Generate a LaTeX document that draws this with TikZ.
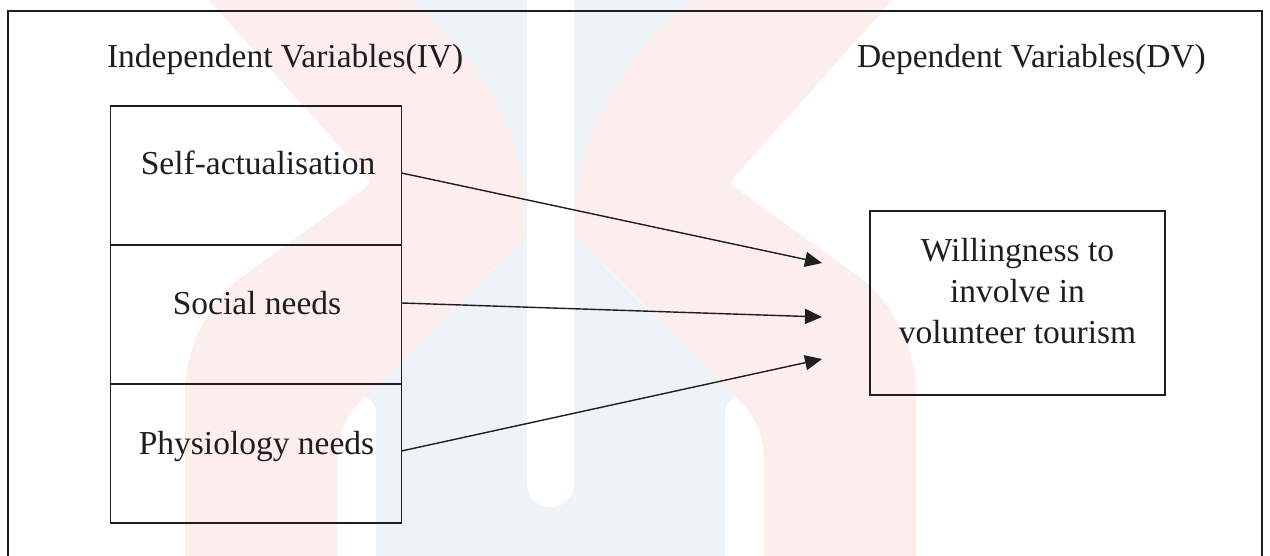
\documentclass[tikz,border=0pt]{standalone}
\usepackage{fontspec}
\setmainfont{Liberation Serif}
\usetikzlibrary{arrows.meta,calc}
\definecolor{wmpink}{RGB}{253,238,238}
\definecolor{wmblue}{RGB}{238,243,248}
\definecolor{ink}{RGB}{30,30,30}
\begin{document}
\begin{tikzpicture}[x=1pt,y=-1pt,
  every node/.style={font=\fontsize{33.5}{41.5}\selectfont, inner sep=0pt, outer sep=0pt, text=ink},
  cellbox/.style={draw=ink, line width=1.8pt, minimum width=291pt, minimum height=139pt},
  dvbox/.style={draw=ink, line width=1.8pt, minimum width=295pt, minimum height=184pt},
  frameline/.style={draw=ink, line width=2pt},
  conn/.style={draw=ink, line width=1.4pt, -{Triangle[length=17pt,width=15pt]}},
  lbl/.style={anchor=base}
]
\clip (0,0) rectangle (1270,556);
% watermark: blue centre
\fill[wmblue] (396,-5) .. controls (530,110) and (535,232) .. (495,268) -- (331,431) -- (331,600) -- (770,600) -- (770,431) -- (606,268) .. controls (566,232) and (571,110) .. (705,-5) -- cycle;
\fill[white, rounded corners=19pt] (337,395) rectangle (376,620);
\fill[white, rounded corners=19pt] (725,395) rectangle (764,620);
\fill[white, rounded corners=23pt] (527,-40) rectangle (574,507);
% watermark: pink bands
\fill[wmpink] (204,-5) [rounded corners=6pt] -- (372,183) [rounded corners=70pt] -- (185,318) [sharp corners] -- (185,600) [rounded corners=30pt] -- (337,600) -- (337,425) -- (500,262) [sharp corners] .. controls (530,232) and (540,100) .. (402,-5) -- cycle;
\fill[wmpink] (897,-5) [rounded corners=6pt] -- (729,183) [rounded corners=70pt] -- (916,318) [sharp corners] -- (916,600) [rounded corners=30pt] -- (764,600) -- (764,425) -- (601,262) [sharp corners] .. controls (571,232) and (561,100) .. (699,-5) -- cycle;
% outer frame
\draw[frameline] (8,600) -- (8,11) -- (1262,11) -- (1262,600);
% headers
\node[anchor=base west] (ivh) at (107,68) {Independent Variables(IV)};
\node[anchor=base west] (dvh) at (857,68) {Dependent Variables(DV)};
% IV cells
\node[cellbox] (c1) at (256,175.5) {};
\node[cellbox] (c2) at (256,314.5) {};
\node[cellbox] (c3) at (256,453.5) {};
\node[lbl] (t1) at (258,175) {Self-actualisation};
\node[lbl] (t2) at (257,315) {Social needs};
\node[lbl] (t3) at (256.5,454) {Physiology needs};
% DV box
\node[dvbox] (dv) at (1017.5,303) {};
\node[lbl, align=center] (dvt) at (1017.5,344) {Willingness to\\involve in\\volunteer tourism};
% arrow ends
\coordinate (e1) at (822,263);
\coordinate (e2) at (822,317);
\coordinate (e3) at (822,359);
\draw[conn] ($(c1.east)+(0,-2.5)$) -- (e1);
\draw[conn] ($(c2.east)+(0,-11.5)$) -- (e2);
\draw[conn] ($(c3.east)+(0,-2.5)$) -- (e3);
\end{tikzpicture}
\end{document}
